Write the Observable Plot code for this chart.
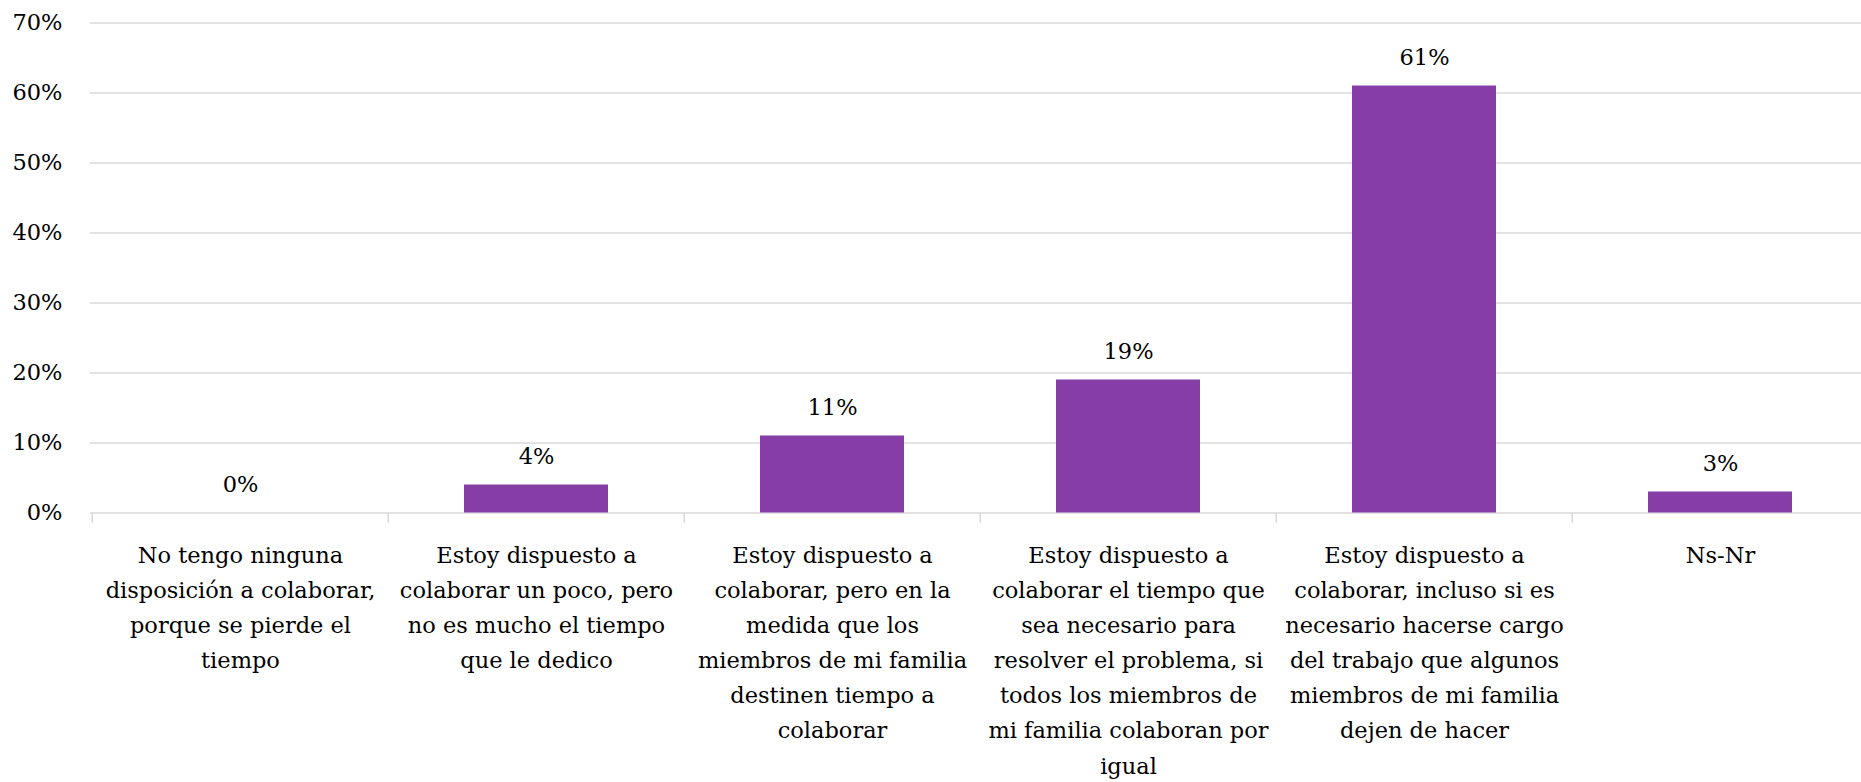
<!DOCTYPE html>
<html>
<head>
<meta charset="utf-8">
<script src="https://cdn.jsdelivr.net/npm/d3@7"></script>
<script src="https://cdn.jsdelivr.net/npm/@observablehq/plot@0.6"></script>
<style>
  html, body { margin: 0; padding: 0; background: #fff; overflow: hidden; }
  #chart svg { overflow: hidden; }
</style>
</head>
<body>
<div id="chart"></div>
<script>
const categories = [
  "No tengo ninguna\ndisposición a colaborar,\nporque se pierde el\ntiempo",
  "Estoy dispuesto a\ncolaborar un poco, pero\nno es mucho el tiempo\nque le dedico",
  "Estoy dispuesto a\ncolaborar, pero en la\nmedida que los\nmiembros de mi familia\ndestinen tiempo a\ncolaborar",
  "Estoy dispuesto a\ncolaborar el tiempo que\nsea necesario para\nresolver el problema, si\ntodos los miembros de\nmi familia colaboran por\nigual",
  "Estoy dispuesto a\ncolaborar, incluso si es\nnecesario hacerse cargo\ndel trabajo que algunos\nmiembros de mi familia\ndejen de hacer",
  "Ns-Nr"
];
const values = [0, 4, 11, 19, 61, 3];
const yTicks = [0, 10, 20, 30, 40, 50, 60, 70];

const data = categories.map((c, i) => ({cat: c, value: values[i]}));

const W = 1861, H = 782;
const mL = 90, mR = -8, mT = 22.5, mB = 269.5;
const step = (W - mL - mR) / categories.length;
const purple = "#863EA6";
const gray = "#d9d9d9";

const chart = Plot.plot({
  width: W,
  height: H,
  marginLeft: mL,
  marginRight: mR,
  marginTop: mT,
  marginBottom: mB,
  style: {fontFamily: "DejaVu Serif", fontSize: "22.5px", color: "#000", background: "#fff"},
  x: {domain: categories, paddingInner: 0.514, paddingOuter: 0.257, axis: null},
  y: {domain: [0, 70], axis: null},
  marks: [
    Plot.gridY(yTicks, {stroke: gray, strokeOpacity: 1, strokeWidth: 1.5}),
    Plot.axisY(yTicks, {tickSize: 0, tickPadding: 28, tickFormat: d => d + "%", fontSize: 22.5, label: null}),
    Plot.ruleX(categories, {x: d => d, y1: 0, y2: 0, insetBottom: -10, dx: -step / 2, stroke: gray, strokeWidth: 1.5}),
    Plot.barY(data, {x: "cat", y: "value", fill: purple}),
    Plot.text(data, {x: "cat", y: "value", text: d => d.value + "%", lineAnchor: "bottom", dy: -21.5, fill: "#000", fontSize: 22.5}),
    Plot.text(categories, {x: d => d, frameAnchor: "bottom", lineAnchor: "top", dy: 25, text: d => d, lineHeight: 1.56, fill: "#000", fontSize: 22.5})
  ]
});
document.getElementById("chart").appendChild(chart);
</script>
</body>
</html>
